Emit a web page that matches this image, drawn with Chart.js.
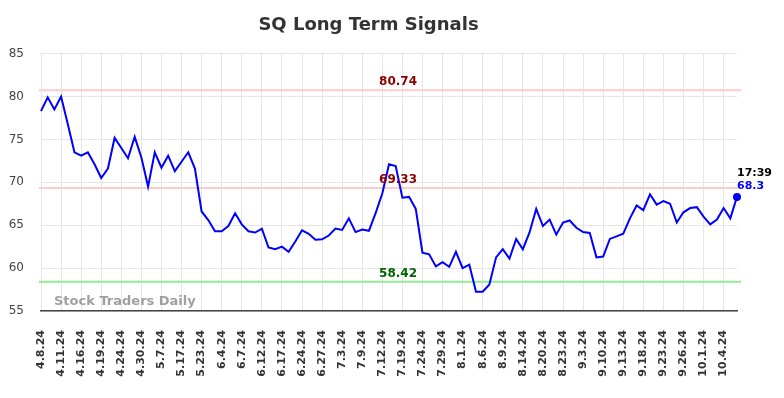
<!DOCTYPE html>
<html>
<head>
<meta charset="utf-8">
<script src="https://cdn.jsdelivr.net/npm/chart.js@4"></script>
<style>
  html, body { margin: 0; padding: 0; background: #fff; }
  #box { width: 784px; height: 398px; }
</style>
</head>
<body>
<div id="box"><canvas id="grafico"></canvas></div>
<script>
// Etiquetas del eje X (una cada 3 sesiones)
const tickLabels = ["4.8.24", "4.11.24", "4.16.24", "4.19.24", "4.24.24", "4.30.24", "5.7.24",
  "5.17.24", "5.23.24", "6.4.24", "6.7.24", "6.12.24", "6.17.24", "6.24.24", "6.27.24", "7.3.24",
  "7.9.24", "7.12.24", "7.19.24", "7.24.24", "7.29.24", "8.1.24", "8.6.24", "8.9.24", "8.14.24",
  "8.20.24", "8.23.24", "9.3.24", "9.10.24", "9.13.24", "9.18.24", "9.23.24", "9.26.24",
  "10.1.24", "10.4.24"];

// Precio
const precios = [
  78.3, 79.9, 78.5, 80.0, 76.8, 73.5, 73.1, 73.5, 72.1, 70.5,
  71.6, 75.2, 74.0, 72.8, 75.3, 72.9, 69.5, 73.5, 71.7, 73.1,
  71.3, 72.4, 73.5, 71.6, 66.6, 65.6, 64.3, 64.3, 64.9, 66.4,
  65.1, 64.3, 64.15, 64.6, 62.4, 62.2, 62.5, 61.9, 63.1, 64.4,
  64.0, 63.3, 63.35, 63.8, 64.6, 64.45, 65.8, 64.2, 64.5, 64.35,
  66.4, 68.7, 72.1, 71.9, 68.2, 68.3, 66.9, 61.8, 61.6, 60.2,
  60.7, 60.15, 61.9, 60.0, 60.4, 57.25, 57.25, 58.1, 61.25, 62.2,
  61.1, 63.4, 62.2, 64.15, 66.9, 64.9, 65.65, 63.9, 65.3, 65.55,
  64.7, 64.2, 64.1, 61.25, 61.35, 63.4, 63.7, 64.0, 65.8, 67.3,
  66.75, 68.6, 67.4, 67.8, 67.5, 65.3, 66.5, 67.0, 67.1, 66.0,
  65.1, 65.65, 67.0, 65.8, 68.3
];

// Niveles de señal
const resistencias = [80.74, 69.33];
const soportes = [58.42];
const horaUltimo = "17:39";

const etiquetas = precios.map((v, i) => (i % 3 === 0 ? tickLabels[i / 3] : ""));

const FUENTE = "'DejaVu Sans', sans-serif";

// Líneas de señal, marca de agua y último valor
const extras = {
  id: "extras",
  beforeDatasetsDraw(chart) {
    const { ctx, chartArea: a, scales: { x, y } } = chart;
    ctx.save();
    // marca de agua
    ctx.font = "bold 13px " + FUENTE;
    ctx.fillStyle = "rgba(150,150,150,0.9)";
    ctx.textAlign = "left";
    ctx.textBaseline = "middle";
    ctx.fillText("Stock Traders Daily", a.left + 13, a.bottom - 9);

    const niveles = resistencias.map(v => [v, "#ffcccc", "#8b0000"])
      .concat(soportes.map(v => [v, "#90ee90", "#006400"]));
    niveles.forEach(([v, linea]) => {
      const py = y.getPixelForValue(v);
      ctx.strokeStyle = linea;
      ctx.lineWidth = 2;
      ctx.beginPath();
      ctx.moveTo(a.left - 2, py);
      ctx.lineTo(a.right + 4, py);
      ctx.stroke();
    });
    ctx.restore();
  },
  afterDatasetsDraw(chart) {
    const { ctx, chartArea: a, scales: { x, y } } = chart;
    ctx.save();
    const niveles = resistencias.map(v => [v, "#8b0000"])
      .concat(soportes.map(v => [v, "#006400"]));
    ctx.font = "bold 12px " + FUENTE;
    ctx.textAlign = "center";
    ctx.textBaseline = "bottom";
    const cx = a.left + (a.right - a.left) * 0.513;
    niveles.forEach(([v, col]) => {
      ctx.fillStyle = col;
      ctx.fillText(v.toFixed(2), cx, y.getPixelForValue(v) - 2);
    });

    // último punto
    const n = precios.length - 1;
    const px = x.getPixelForValue(n);
    const py = y.getPixelForValue(precios[n]);
    ctx.fillStyle = "#0000ff";
    ctx.beginPath();
    ctx.arc(px, py, 4, 0, Math.PI * 2);
    ctx.fill();
    ctx.font = "bold 11px " + FUENTE;
    ctx.textAlign = "left";
    ctx.textBaseline = "middle";
    ctx.fillStyle = "#000";
    ctx.fillText(horaUltimo, px, py - 24);
    ctx.fillStyle = "#0000ff";
    ctx.fillText(String(precios[n]), px, py - 11);
    ctx.restore();
  }
};

new Chart(document.getElementById("grafico"), {
  type: "line",
  data: {
    labels: etiquetas,
    datasets: [{
      label: "SQ",
      data: precios,
      borderColor: "#0000ff",
      borderWidth: 2,
      pointRadius: 0,
      tension: 0,
      fill: false
    }]
  },
  options: {
    responsive: true,
    maintainAspectRatio: false,
    animation: false,
    layout: { padding: { left: 0, right: 47, top: 0, bottom: 0 } },
    plugins: {
      legend: { display: false },
      tooltip: { enabled: false },
      title: {
        display: true,
        text: "SQ Long Term Signals",
        color: "#333",
        font: { family: FUENTE, size: 18, weight: "bold" },
        padding: { top: 15, bottom: 17 }
      }
    },
    scales: {
      x: {
        grid: {
          color: c => (c.index % 3 === 0 ? "#e6e6e6" : "rgba(0,0,0,0)"),
          drawTicks: false
        },
        border: { display: true, color: "#444", width: 1.5 },
        ticks: {
          autoSkip: false,
          minRotation: 90,
          maxRotation: 90,
          padding: 19,
          color: "#333",
          font: { family: FUENTE, size: 11, weight: "bold" }
        },
        afterFit: s => { s.height = 87; }
      },
      y: {
        min: 55,
        max: 85,
        grid: { color: "#e6e6e6", drawTicks: false },
        border: { display: false },
        ticks: {
          stepSize: 5,
          padding: 17,
          color: "#444",
          font: { family: FUENTE, size: 12 }
        },
        afterFit: s => { s.width = 41; }
      }
    }
  },
  plugins: [extras]
});
</script>
</body>
</html>
